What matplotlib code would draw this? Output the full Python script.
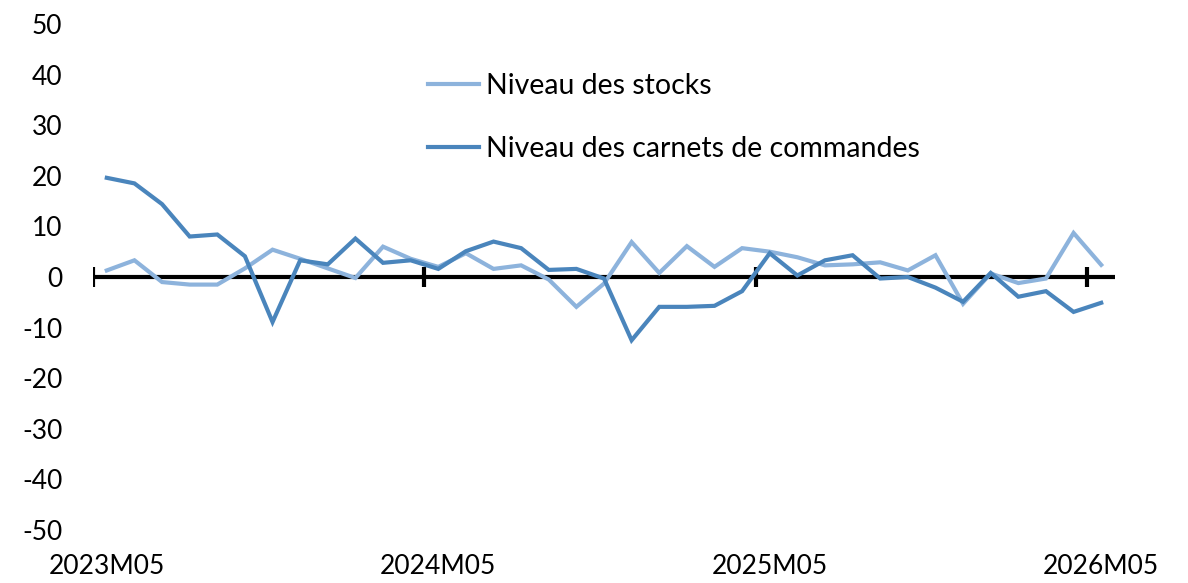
import matplotlib
matplotlib.use("Agg")
import matplotlib.pyplot as plt
import numpy as np
from matplotlib.lines import Line2D

plt.rcParams['font.family'] = ['Lato', 'DejaVu Sans']

tick_labels = ["2023M05", "2024M05", "2025M05", "2026M05"]
n_months = 37

stocks = [1.3, 3.3, -1.0, -1.5, -1.5, 1.7, 5.4, 3.6, 1.7, -0.2, 6.0, 3.6,
          2.0, 4.7, 1.6, 2.3, -0.5, -5.9, -1.3, 6.9, 0.8, 6.1, 2.0, 5.7,
          5.0, 3.9, 2.3, 2.5, 2.9, 1.3, 4.3, -5.3, 0.7, -1.2, -0.3, 8.7, 2.4]
carnets = [19.6, 18.5, 14.4, 8.0, 8.4, 4.1, -8.9, 3.3, 2.5, 7.6, 2.8, 3.3,
           1.6, 5.1, 7.0, 5.7, 1.4, 1.6, -0.3, -12.5, -5.9, -5.9, -5.7, -2.8,
           4.7, 0.3, 3.3, 4.3, -0.3, 0.0, -2.1, -4.9, 0.8, -3.9, -2.8, -6.9, -5.1]

light = "#8DB3DC"
dark = "#4A85BC"

W, H = 1188, 583
fig = plt.figure(figsize=(W / 100, H / 100), dpi=100)
ax = fig.add_axes([93 / W, 1 - 530 / H, (1115 - 93) / W, (530 - 24) / H])

x = np.arange(n_months)
ax.plot(x, stocks, color=light, lw=3.0, solid_joinstyle='miter', zorder=3)
ax.plot(x, carnets, color=dark, lw=3.0, solid_joinstyle='miter', zorder=4)

ax.set_xlim(-0.5, n_months - 0.5)
ax.set_ylim(-50, 50)

# zero axis line with cross tick marks at category boundaries
ax.axhline(0, color='black', lw=3.0, zorder=2)
bounds = np.arange(-0.5, n_months, 12)
ax.vlines(bounds, -1.9, 1.9, color='black', lw=3.0, zorder=2)

for s in ax.spines.values():
    s.set_visible(False)

ax.set_yticks(np.arange(-50, 51, 10))
ax.set_yticklabels([str(v) for v in range(-50, 51, 10)])
ax.tick_params(axis='y', length=0, pad=22, labelsize=19)
ax.set_xticks(x[::12])
ax.set_xticklabels(tick_labels)
ax.tick_params(axis='x', length=0, pad=17, labelsize=19)

handles = [Line2D([], [], color=light, lw=3.0),
           Line2D([], [], color=dark, lw=3.0)]
leg = ax.legend(handles, ["Niveau des stocks", "Niveau des carnets de commandes"],
                loc='upper left', frameon=False, fontsize=20.5,
                handlelength=1.8, handletextpad=0.25, labelspacing=1.3)
leg.set_bbox_to_anchor((402 / W, 1 - 47 / H), transform=fig.transFigure)

fig.savefig("out.png", dpi=100)
